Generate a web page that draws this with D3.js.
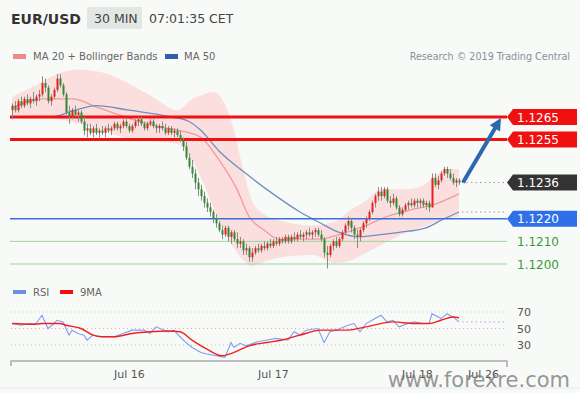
<!DOCTYPE html>
<html>
<head>
<meta charset="utf-8">
<script src="https://cdn.jsdelivr.net/npm/d3@7"></script>
<style>
  html, body { margin: 0; padding: 0; background: #f8faf8; }
  svg { display: block; font-family: "DejaVu Sans", Verdana, sans-serif; }
</style>
</head>
<body>
<div id="chart"></div>
<script>
// EUR/USD 30 min candles, Jul 15 06:30 -> Jul 18 07:00 (open, high, low, close)
const candles = [
  [1.1268,1.1271,1.1264,1.1270],[1.1270,1.1272,1.1267,1.1268],[1.1268,1.1273,1.1267,1.1272],[1.1272,1.1274,1.1269,1.1270],
  [1.1270,1.1274,1.1269,1.1273],[1.1273,1.1275,1.1270,1.1271],[1.1271,1.1274,1.1269,1.1273],[1.1273,1.1276,1.1271,1.1272],
  [1.1272,1.1275,1.1270,1.1274],[1.1274,1.1277,1.1272,1.1275],[1.1275,1.1283,1.1274,1.1280],[1.1280,1.1282,1.1276,1.1278],
  [1.1278,1.1279,1.1271,1.1272],[1.1272,1.1275,1.1270,1.1274],[1.1274,1.1278,1.1273,1.1277],[1.1277,1.1284,1.1276,1.1282],
  [1.1282,1.1284,1.1278,1.1279],[1.1279,1.1280,1.1274,1.1275],[1.1275,1.1276,1.1266,1.1267],[1.1267,1.1270,1.1262,1.1265],
  [1.1265,1.1269,1.1264,1.1268],[1.1268,1.1270,1.1265,1.1266],[1.1266,1.1268,1.1263,1.1267],[1.1267,1.1268,1.1262,1.1263],
  [1.1263,1.1265,1.1257,1.1259],[1.1259,1.1262,1.1256,1.1260],[1.1260,1.1262,1.1257,1.1258],[1.1258,1.1261,1.1256,1.1260],
  [1.1260,1.1262,1.1257,1.1258],[1.1258,1.1260,1.1256,1.1259],[1.1259,1.1261,1.1257,1.1258],[1.1258,1.1261,1.1256,1.1260],
  [1.1260,1.1262,1.1258,1.1259],[1.1259,1.1261,1.1257,1.1260],[1.1260,1.1263,1.1259,1.1262],[1.1262,1.1263,1.1259,1.1260],
  [1.1260,1.1262,1.1258,1.1261],[1.1261,1.1264,1.1260,1.1263],[1.1263,1.1264,1.1260,1.1261],[1.1261,1.1262,1.1258,1.1259],
  [1.1259,1.1262,1.1258,1.1261],[1.1261,1.1264,1.1260,1.1263],[1.1263,1.1265,1.1261,1.1264],[1.1264,1.1265,1.1261,1.1262],
  [1.1262,1.1263,1.1259,1.1260],[1.1260,1.1263,1.1259,1.1262],[1.1262,1.1264,1.1261,1.1263],[1.1263,1.1264,1.1260,1.1261],
  [1.1261,1.1262,1.1258,1.1260],[1.1260,1.1262,1.1258,1.1261],[1.1261,1.1263,1.1259,1.1260],[1.1260,1.1262,1.1257,1.1258],
  [1.1258,1.1261,1.1257,1.1260],[1.1260,1.1261,1.1257,1.1258],[1.1258,1.1260,1.1256,1.1259],[1.1259,1.1260,1.1256,1.1257],
  [1.1257,1.1259,1.1254,1.1255],[1.1255,1.1256,1.1250,1.1252],[1.1252,1.1254,1.1246,1.1247],[1.1247,1.1249,1.1242,1.1243],
  [1.1243,1.1246,1.1238,1.1240],[1.1240,1.1242,1.1233,1.1236],[1.1236,1.1238,1.1230,1.1233],[1.1233,1.1235,1.1228,1.1230],
  [1.1230,1.1232,1.1225,1.1227],[1.1227,1.1229,1.1223,1.1225],[1.1225,1.1227,1.1221,1.1223],[1.1223,1.1224,1.1218,1.1220],
  [1.1220,1.1222,1.1216,1.1218],[1.1218,1.1219,1.1214,1.1215],[1.1215,1.1217,1.1211,1.1213],[1.1213,1.1217,1.1212,1.1216],
  [1.1216,1.1217,1.1210,1.1212],[1.1212,1.1215,1.1209,1.1214],[1.1214,1.1215,1.1210,1.1211],[1.1211,1.1214,1.1207,1.1209],
  [1.1209,1.1212,1.1207,1.1210],[1.1210,1.1211,1.1204,1.1206],[1.1206,1.1209,1.1204,1.1207],[1.1207,1.1208,1.1201,1.1203],
  [1.1203,1.1207,1.1201,1.1205],[1.1205,1.1208,1.1204,1.1207],[1.1207,1.1209,1.1205,1.1206],[1.1206,1.1209,1.1205,1.1208],
  [1.1208,1.1210,1.1206,1.1207],[1.1207,1.1210,1.1206,1.1209],[1.1209,1.1211,1.1207,1.1208],[1.1208,1.1211,1.1207,1.1210],
  [1.1210,1.1212,1.1208,1.1209],[1.1209,1.1212,1.1208,1.1211],[1.1211,1.1212,1.1209,1.1210],[1.1210,1.1213,1.1209,1.1212],
  [1.1212,1.1213,1.1209,1.1210],[1.1210,1.1213,1.1209,1.1212],[1.1212,1.1214,1.1210,1.1211],[1.1211,1.1214,1.1210,1.1213],
  [1.1213,1.1215,1.1211,1.1212],[1.1212,1.1214,1.1210,1.1213],[1.1213,1.1215,1.1211,1.1214],[1.1214,1.1216,1.1212,1.1213],
  [1.1213,1.1215,1.1211,1.1214],[1.1214,1.1216,1.1212,1.1215],[1.1215,1.1216,1.1212,1.1213],[1.1213,1.1215,1.1210,1.1211],
  [1.1211,1.1212,1.1203,1.1205],[1.1205,1.1208,1.1198,1.1204],[1.1204,1.1209,1.1203,1.1208],[1.1208,1.1211,1.1206,1.1210],
  [1.1210,1.1212,1.1207,1.1208],[1.1208,1.1212,1.1207,1.1211],[1.1211,1.1215,1.1210,1.1214],[1.1214,1.1218,1.1213,1.1217],
  [1.1217,1.1221,1.1215,1.1219],[1.1219,1.1220,1.1214,1.1216],[1.1216,1.1217,1.1211,1.1213],[1.1213,1.1215,1.1207,1.1212],
  [1.1212,1.1216,1.1210,1.1215],[1.1215,1.1219,1.1214,1.1218],[1.1218,1.1221,1.1216,1.1220],[1.1220,1.1224,1.1219,1.1223],
  [1.1223,1.1228,1.1222,1.1227],[1.1227,1.1231,1.1225,1.1230],[1.1230,1.1234,1.1228,1.1232],[1.1232,1.1234,1.1228,1.1230],
  [1.1230,1.1234,1.1229,1.1233],[1.1233,1.1234,1.1227,1.1228],[1.1228,1.1230,1.1225,1.1227],[1.1227,1.1231,1.1226,1.1229],
  [1.1229,1.1230,1.1224,1.1225],[1.1225,1.1226,1.1221,1.1222],[1.1222,1.1225,1.1221,1.1224],[1.1224,1.1227,1.1223,1.1226],
  [1.1226,1.1228,1.1224,1.1227],[1.1227,1.1229,1.1225,1.1226],[1.1226,1.1229,1.1225,1.1228],[1.1228,1.1229,1.1225,1.1227],
  [1.1227,1.1229,1.1225,1.1228],[1.1228,1.1229,1.1225,1.1226],[1.1226,1.1228,1.1224,1.1227],[1.1227,1.1228,1.1223,1.1225],
  [1.1225,1.1240,1.1225,1.1238],[1.1238,1.1240,1.1234,1.1235],[1.1235,1.1239,1.1233,1.1237],[1.1237,1.1241,1.1236,1.1240],
  [1.1240,1.1243,1.1239,1.1242],[1.1242,1.1243,1.1238,1.1240],[1.1240,1.1242,1.1237,1.1238],[1.1238,1.1240,1.1235,1.1236],
  [1.1236,1.1238,1.1234,1.1237],[1.1237,1.1238,1.1235,1.1236]
]

// indicator readings: [candle index, value]
const ma20 = [[0,1.1269],[10,1.1273],[20,1.1273],[29,1.1269],[40,1.1264],[52,1.1260],[56,1.1259],[63,1.1256],
  [69,1.1246],[75,1.1233],[79,1.1221],[84,1.1215],[89,1.1211],[96,1.1211],[103,1.1211],[109,1.1213],
  [118,1.1217],[125,1.1221],[133,1.1224],[140,1.1226],[144,1.1228],[149,1.1231]]
const ma50 = [[0,1.1265],[13,1.1265],[21,1.1268],[28,1.1270],[39,1.1268],[53,1.1265],[59,1.1263],[63,1.1259],
  [69,1.1250],[78,1.1240],[87,1.1231],[96,1.1223],[103,1.1218],[109,1.1214],[116,1.1212],[123,1.1213],
  [129,1.1214],[138,1.1216],[144,1.1220],[149,1.1223]]
const bbUpper = [[0,1.1274],[8,1.1279],[15,1.1284],[22,1.1286],[32,1.1284],[40,1.1279],[48,1.1273],[55,1.1268],
  [60,1.1273],[64,1.1275],[67,1.1276],[70,1.1273],[74,1.1259],[77,1.1242],[80,1.1228],[84,1.1222],
  [90,1.1219],[100,1.1217],[108,1.1219],[113,1.1224],[118,1.1228],[123,1.1233],[130,1.1233],[136,1.1234],
  [141,1.1239],[145,1.1242],[149,1.1242]]
const bbLower = [[0,1.1266],[10,1.1265],[20,1.1263],[30,1.1259],[40,1.1255],[50,1.1254],[56,1.1253],[60,1.1246],
  [64,1.1235],[68,1.1222],[72,1.1211],[76,1.1203],[80,1.1199],[84,1.1201],[90,1.1203],[100,1.1204],
  [106,1.1200],[112,1.1201],[118,1.1205],[124,1.1209],[130,1.1213],[136,1.1216],[142,1.1219],[149,1.1221]]

const rsi = [[0,56],[3,54],[6,56],[8,56],[10,66],[12,50],[14,56],[15,60],[17,58],[19,42],[20,48],[22,44],
  [24,42],[25,36],[27,42],[30,40],[34,40],[37,44],[40,48],[44,48],[46,44],[48,52],[52,46],[54,48],
  [56,40],[58,33],[60,27],[63,21],[65,19],[68,17],[71,15],[73,33],[74,27],[76,32],[78,29],[82,34],
  [85,36],[88,38],[92,36],[94,46],[96,42],[98,48],[102,50],[104,33],[106,46],[108,48],[112,54],[114,56],
  [116,46],[118,56],[120,60],[123,66],[125,58],[127,60],[129,52],[132,56],[134,58],[137,56],[139,56],
  [140,68],[143,62],[145,68],[147,64],[149,58]]
const rsiMa = [[0,56],[7,55],[10,56],[16,56],[18,54],[23,50],[27,42],[30,40],[34,40],[40,44],[46,46],[52,47],
  [56,46],[60,36],[65,25],[70,17],[74,21],[79,29],[85,33],[90,36],[96,42],[103,48],[112,48],[118,52],
  [127,58],[134,56],[139,56],[143,60],[147,64],[149,63]]

const levels = [1.1265, 1.1255, 1.1236, 1.1220, 1.1210, 1.1200]
const rsiTicks = [70, 50, 30]
const xTickLabels = ['Jul 16', 'Jul 17', 'Jul 18', 'Jul 26']
const xTickIndex = [39, 87, 135, 157]

let width = 580, height = 393

let svg = d3.select('#chart').append('svg')
    .attr('width', width)
    .attr('height', height)

svg.append('rect').attr('width', width).attr('height', height).attr('fill', '#f8faf8')

let x = d3.scaleLinear().domain([0, candles.length - 1]).range([12, 459])
let y = d3.scaleLinear().domain([1.1200, 1.1265]).range([264, 117])
let yr = d3.scaleLinear().domain([30, 70]).range([345, 312])

const labelX = 507

// header
svg.append('text').attr('x', 11).attr('y', 24)
    .attr('font-size', 14).attr('font-weight', 'bold').attr('fill', '#333')
    .text('EUR/USD')
svg.append('rect').attr('x', 87).attr('y', 7).attr('width', 55).attr('height', 22).attr('fill', '#e3e6e3')
svg.append('text').attr('x', 94).attr('y', 23).attr('font-size', 12.5).attr('fill', '#444').text('30 MIN')
svg.append('text').attr('x', 149).attr('y', 23).attr('font-size', 12.5).attr('fill', '#444').text('07:01:35 CET')

// legend
let legend = svg.append('g').attr('font-size', 10).attr('fill', '#666')
legend.append('rect').attr('x', 13).attr('y', 54).attr('width', 13).attr('height', 5).attr('fill', '#f08a8a')
legend.append('text').attr('x', 33).attr('y', 60).text('MA 20 + Bollinger Bands')
legend.append('rect').attr('x', 165).attr('y', 54).attr('width', 13).attr('height', 5).attr('fill', '#2f5fa8')
legend.append('text').attr('x', 184).attr('y', 60).text('MA 50')
svg.append('text').attr('x', 570).attr('y', 60).attr('text-anchor', 'end')
    .attr('font-size', 9.6).attr('fill', '#8a9099').text('Research © 2019 Trading Central')

let main = svg.append('g')

// bollinger band area
let band = bbUpper.map((d, i) => d)
let area = d3.area()
    .x(d => x(d[0]))
    .y0(d => y(d.lo))
    .y1(d => y(d[1]))
    .curve(d3.curveMonotoneX)
let lowerFn = d3.scaleLinear().domain(bbLower.map(d => d[0])).range(bbLower.map(d => d[1]))
main.append('path')
    .datum(band.map(d => Object.assign([d[0], d[1]], { lo: lowerFn(d[0]) })))
    .attr('d', area)
    .attr('fill', '#fbd6d6').attr('opacity', 0.75)

let line = d3.line().x(d => x(d[0])).y(d => y(d[1])).curve(d3.curveMonotoneX)

main.append('path').datum(ma20).attr('d', line)
    .attr('fill', 'none').attr('stroke', '#f29a9a').attr('stroke-width', 1.3)
main.append('path').datum(ma50).attr('d', line)
    .attr('fill', 'none').attr('stroke', '#6f8fc0').attr('stroke-width', 1.3)

// horizontal levels
const levelColor = ['#f01010', '#f01010', null, '#3a6fd8', '#9ad69a', '#9ad69a']
const levelWidth = [3, 3, 0, 1.5, 1, 1]
levels.forEach((v, i) => {
    if (!levelColor[i]) return
    main.append('line')
        .attr('x1', 10).attr('x2', labelX)
        .attr('y1', y(v)).attr('y2', y(v))
        .attr('stroke', levelColor[i]).attr('stroke-width', levelWidth[i])
})

// dotted guides from last values
let last = candles.length - 1
main.append('line').attr('x1', x(last) + 3).attr('x2', labelX - 2)
    .attr('y1', y(candles[last][3])).attr('y2', y(candles[last][3]))
    .attr('stroke', '#999').attr('stroke-dasharray', '1.5,3')
main.append('line').attr('x1', x(last) + 3).attr('x2', labelX - 2)
    .attr('y1', y(ma50[ma50.length - 1][1])).attr('y2', y(ma50[ma50.length - 1][1]))
    .attr('stroke', '#999').attr('stroke-dasharray', '1.5,3')

// candles
let cg = main.append('g')
cg.selectAll('line.wick').data(candles).join('line')
    .attr('class', 'wick')
    .attr('x1', (d, i) => x(i) + 0.5).attr('x2', (d, i) => x(i) + 0.5)
    .attr('y1', d => y(d[1])).attr('y2', d => y(d[2]))
    .attr('stroke', '#8a8a8a').attr('stroke-width', 1)
cg.selectAll('rect.body').data(candles).join('rect')
    .attr('class', 'body')
    .attr('x', (d, i) => x(i) - 0.5)
    .attr('width', 2)
    .attr('y', d => y(Math.max(d[0], d[3])))
    .attr('height', d => Math.max(1, Math.abs(y(d[0]) - y(d[3]))))
    .attr('fill', d => d[3] >= d[0] ? '#e0241c' : '#2f8a32')

// arrow
let ax1 = x(last) + 4, ay1 = y(candles[last][3])
let ax2 = x(last + 14), ay2 = y(levels[0]) + 1
let ang = Math.atan2(ay2 - ay1, ax2 - ax1)
main.append('line').attr('x1', ax1).attr('y1', ay1)
    .attr('x2', ax2 - 8 * Math.cos(ang)).attr('y2', ay2 - 8 * Math.sin(ang))
    .attr('stroke', '#2b68b0').attr('stroke-width', 4)
let ah = [[ax2, ay2],
    [ax2 - 12 * Math.cos(ang) + 6 * Math.sin(ang), ay2 - 12 * Math.sin(ang) - 6 * Math.cos(ang)],
    [ax2 - 12 * Math.cos(ang) - 6 * Math.sin(ang), ay2 - 12 * Math.sin(ang) + 6 * Math.cos(ang)]]
main.append('path').attr('d', 'M' + ah.join('L') + 'Z').attr('fill', '#2b68b0')

// price labels
const boxColor = ['#f01010', '#f01010', '#333333', '#2f6fe8', null, null]
levels.forEach((v, i) => {
    let cy = y(v)
    if (boxColor[i]) {
        main.append('path')
            .attr('d', `M${labelX},${cy} L${labelX + 6},${cy - 8} L577,${cy - 8} L577,${cy + 8} L${labelX + 6},${cy + 8} Z`)
            .attr('fill', boxColor[i])
    }
    main.append('text').attr('x', 517).attr('y', cy + 4.5)
        .attr('font-size', 12)
        .attr('fill', boxColor[i] ? '#fff' : '#3a9a3a')
        .text(v.toFixed(4))
})

// RSI panel
let rl = svg.append('g').attr('font-size', 10).attr('fill', '#666')
rl.append('rect').attr('x', 13).attr('y', 290).attr('width', 13).attr('height', 4).attr('fill', '#6d8fe8')
rl.append('text').attr('x', 33).attr('y', 296).text('RSI')
rl.append('rect').attr('x', 60).attr('y', 290).attr('width', 13).attr('height', 4).attr('fill', '#f01010')
rl.append('text').attr('x', 80).attr('y', 296).text('9MA')

const rsiGridColor = ['#a8d8a8', '#f0a8a8', '#a8d8a8']
rsiTicks.forEach((t, i) => {
    svg.append('line').attr('x1', 11).attr('x2', labelX - 2)
        .attr('y1', yr(t)).attr('y2', yr(t))
        .attr('stroke', rsiGridColor[i]).attr('stroke-dasharray', '1,3')
    svg.append('text').attr('x', 517).attr('y', yr(t) + 4)
        .attr('font-size', 11).attr('fill', '#555').text(t)
})

let rline = d3.line().x(d => x(d[0])).y(d => yr(d[1]))
svg.append('line').attr('x1', x(last) + 3).attr('x2', labelX - 2)
    .attr('y1', yr(rsi[rsi.length - 1][1])).attr('y2', yr(rsi[rsi.length - 1][1]))
    .attr('stroke', '#9ab0e0').attr('stroke-dasharray', '1.5,3')
svg.append('path').datum(rsi).attr('d', rline)
    .attr('fill', 'none').attr('stroke', '#7f9ff0').attr('stroke-width', 1.1)
svg.append('path').datum(rsiMa).attr('d', rline.curve(d3.curveMonotoneX))
    .attr('fill', 'none').attr('stroke', '#f02020').attr('stroke-width', 1.4)

// time axis
let axisG = svg.append('g').attr('transform', 'translate(0,361)')
axisG.call(d3.axisBottom(d3.scaleLinear().domain([-0.3, 165]).range([11, labelX]))
    .tickValues(xTickIndex).tickSize(0).tickPadding(9)
    .tickFormat((d, i) => xTickLabels[i]))
axisG.select('.domain').attr('stroke', '#aaa').attr('stroke-width', 1.5)
    .attr('d', `M11,5V0H${labelX}V6`)
axisG.selectAll('text').attr('font-size', 11).attr('fill', '#555')
    .attr('font-family', '"DejaVu Sans", Verdana, sans-serif')

svg.append('line').attr('x1', 0).attr('x2', width).attr('y1', 388).attr('y2', 388)
    .attr('stroke', '#e2ece2')

// watermark
svg.append('text').attr('x', 570).attr('y', 387).attr('text-anchor', 'end')
    .attr('font-size', 21).attr('fill', '#777').attr('opacity', 0.75)
    .text('www.forexre.com')
</script>
</body>
</html>
